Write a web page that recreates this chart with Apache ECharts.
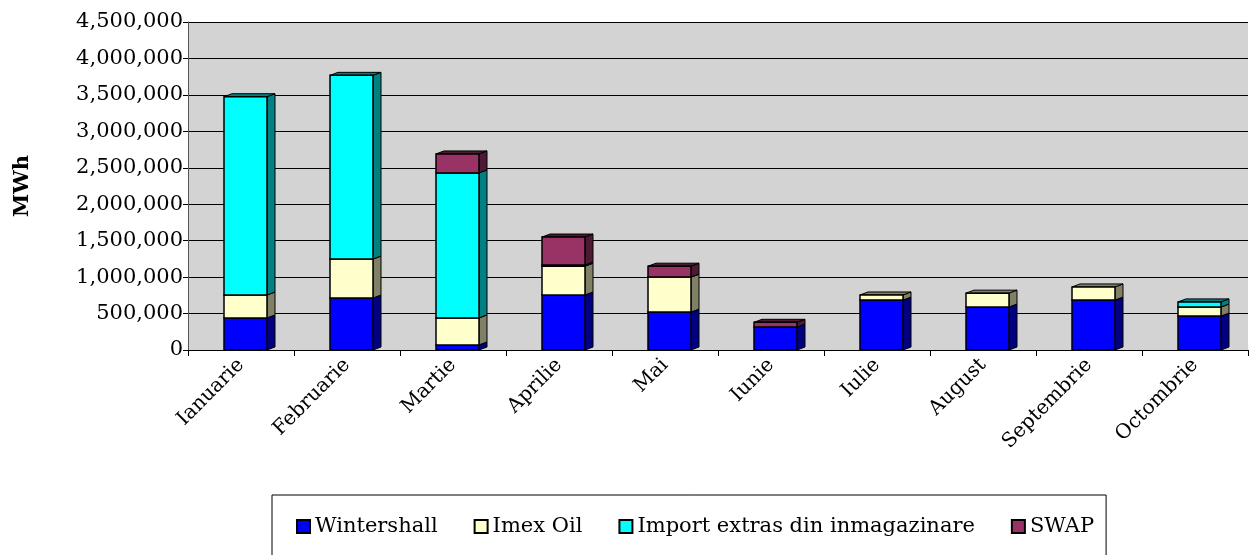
<!DOCTYPE html>
<html style="height: 100%">
<head>
    <meta charset="utf-8">
    <style type="text/css">
        .box{width: 1253px;height:555px;}
    </style>
</head>
<body style="height: 100%; margin: 0; background:#fff">
<div class="box" id="container"></div>
<script src="https://cdn.jsdelivr.net/npm/echarts@6/dist/echarts.min.js"></script>
<script type="text/javascript">
    // luni
    var months = ['Ianuarie','Februarie','Martie','Aprilie','Mai','Iunie','Iulie','August','Septembrie','Octombrie'];
    // MWh pe sursa
    var wintershall = [440000, 713000, 70000, 755000, 520000, 315000, 685000, 590000, 685000, 466000];
    var imexOil     = [315000, 535000, 370000, 395000, 480000, 0, 70000, 190000, 180000, 124000];
    var importExtras = [2720000, 2520000, 1990000, 15000, 0, 0, 0, 0, 0, 70000];
    var swap        = [0, 0, 260000, 385000, 150000, 65000, 0, 0, 0, 0];

    var seriesDefs = [
        {name: 'Wintershall', data: wintershall, color: '#0000ff', side: '#000080'},
        {name: 'Imex Oil', data: imexOil, color: '#ffffcc', side: '#808066'},
        {name: 'Import extras din inmagazinare', data: importExtras, color: '#00ffff', side: '#008080'},
        {name: 'SWAP', data: swap, color: '#993366', side: '#4d1a33'}
    ];

    var dom = document.getElementById("container");
    var chart = echarts.init(dom);

    function makeRender(col, side) {
        return function (params, api) {
            var lo = api.value(1), hi = api.value(2);
            if (hi <= lo) return null;
            var p0 = api.coord([api.value(0), lo]);
            var p1 = api.coord([api.value(0), hi]);
            var x = p0[0] - 17, w = 43, y = p1[1], h = p0[1] - p1[1];
            var dx = 8, dy = -3;
            return {
                type: 'group',
                children: [
                    {type: 'polygon', shape: {points: [[x + w, y], [x + w + dx, y + dy], [x + w + dx, y + h + dy], [x + w, y + h]]},
                        style: {fill: side, stroke: '#000', lineWidth: 1}},
                    {type: 'polygon', shape: {points: [[x, y], [x + dx, y + dy], [x + w + dx, y + dy], [x + w, y]]},
                        style: {fill: side, stroke: '#000', lineWidth: 1}},
                    {type: 'rect', shape: {x: x, y: y, width: w, height: h},
                        style: {fill: col, stroke: '#000', lineWidth: 1.5}}
                ]
            };
        };
    }

    var base = months.map(function () { return 0; });
    var series = seriesDefs.map(function (s) {
        var d = s.data.map(function (v, i) {
            var item = [i, base[i], base[i] + v];
            base[i] += v;
            return item;
        });
        return {
            name: s.name,
            type: 'custom',
            renderItem: makeRender(s.color, s.side),
            itemStyle: {color: s.color, borderColor: '#000', borderWidth: 1},
            encode: {x: 0, y: [1, 2]},
            data: d
        };
    });

    var serif = 'DejaVu Serif';
    var option = {
        backgroundColor: '#ffffff',
        animation: false,
        grid: {
            left: 188, right: 5, top: 22, bottom: 205,
            show: true, backgroundColor: '#d3d3d3', borderWidth: 0
        },
        legend: {
            left: 272, top: 495,
            data: seriesDefs.map(function (s) { return s.name; }),
            icon: 'rect',
            itemWidth: 13, itemHeight: 13, itemGap: 36,
            padding: [21, 12, 40, 24],
            borderColor: '#000', borderWidth: 1,
            textStyle: {fontFamily: serif, fontSize: 21, color: '#000'}
        },
        xAxis: {
            type: 'category',
            data: months,
            axisLine: {lineStyle: {color: '#000'}},
            axisTick: {show: true, length: 6, lineStyle: {color: '#000'}},
            axisLabel: {rotate: 45, interval: 0, fontFamily: serif, fontSize: 20, color: '#000', margin: 12}
        },
        yAxis: {
            type: 'value',
            min: 0, max: 4500000, interval: 500000,
            name: 'MWh',
            nameLocation: 'middle',
            nameGap: 155,
            nameTextStyle: {fontFamily: serif, fontSize: 21, fontWeight: 'bold', color: '#000'},
            axisLine: {show: true, lineStyle: {color: '#555'}},
            axisTick: {show: true, length: 5, lineStyle: {color: '#000'}},
            axisLabel: {fontFamily: serif, fontSize: 21, color: '#000', margin: 5,
                formatter: function (v) { return v.toLocaleString('en-US'); }},
            splitLine: {show: true, lineStyle: {color: '#000', width: 1}}
        },
        series: series
    };
    chart.setOption(option);
</script>
</body>
</html>
